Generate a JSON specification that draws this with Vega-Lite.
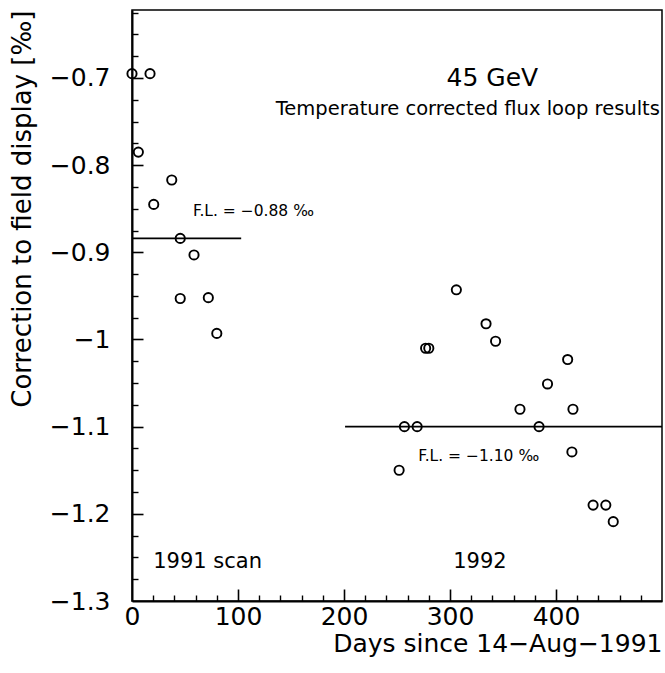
{
  "$schema": "https://vega.github.io/schema/vega-lite/v6.json",
  "width": 530,
  "height": 591,
  "autosize": {"type": "none"},
  "padding": {"left": 132, "top": 10, "right": 3, "bottom": 72},
  "background": "white",
  "config": {
    "view": {"stroke": "black", "strokeWidth": 1.5},
    "font": "DejaVu Sans",
    "axis": {"grid": false, "domainColor": "black", "tickColor": "black", "labelColor": "black", "titleColor": "black", "labelFont": "DejaVu Sans", "titleFont": "DejaVu Sans", "labelFlush": false, "labelOverlap": false}
  },
  "datasets": {
    "points": [
      {"day": 0, "value": -0.695, "period": "1991"},
      {"day": 17, "value": -0.695, "period": "1991"},
      {"day": 6, "value": -0.785, "period": "1991"},
      {"day": 37.5, "value": -0.817, "period": "1991"},
      {"day": 20.5, "value": -0.845, "period": "1991"},
      {"day": 45.5, "value": -0.884, "period": "1991"},
      {"day": 58.5, "value": -0.903, "period": "1991"},
      {"day": 45.5, "value": -0.953, "period": "1991"},
      {"day": 72, "value": -0.952, "period": "1991"},
      {"day": 80, "value": -0.993, "period": "1991"},
      {"day": 252, "value": -1.15, "period": "1992"},
      {"day": 257, "value": -1.1, "period": "1992"},
      {"day": 269, "value": -1.1, "period": "1992"},
      {"day": 277, "value": -1.01, "period": "1992"},
      {"day": 280, "value": -1.01, "period": "1992"},
      {"day": 306, "value": -0.943, "period": "1992"},
      {"day": 334, "value": -0.982, "period": "1992"},
      {"day": 343, "value": -1.002, "period": "1992"},
      {"day": 366, "value": -1.08, "period": "1992"},
      {"day": 384, "value": -1.1, "period": "1992"},
      {"day": 392, "value": -1.051, "period": "1992"},
      {"day": 411, "value": -1.023, "period": "1992"},
      {"day": 416, "value": -1.08, "period": "1992"},
      {"day": 415, "value": -1.129, "period": "1992"},
      {"day": 435, "value": -1.19, "period": "1992"},
      {"day": 447, "value": -1.19, "period": "1992"},
      {"day": 454, "value": -1.209, "period": "1992"}
    ],
    "lines": [
      {"start": 0, "end": 103, "level": -0.884, "period": "1991"},
      {"start": 201, "end": 500, "level": -1.1, "period": "1992"}
    ]
  },
  "resolve": {"axis": {"x": "independent", "y": "independent"}},
  "layer": [
    {
      "data": {"name": "points"},
      "mark": {"type": "point", "shape": "circle", "filled": false, "color": "black", "size": 85, "strokeWidth": 1.9, "opacity": 1},
      "encoding": {
        "x": {"field": "day", "type": "quantitative",
          "scale": {"domain": [0, 500], "nice": false, "zero": false},
          "axis": {"orient": "bottom", "values": [0, 100, 200, 300, 400], "ticks": false, "labelPadding": 3, "labelFontSize": 25, "title": "Days since 14−Aug−1991", "titleFontSize": 25, "titleFontWeight": "normal", "titleAnchor": "end", "titlePadding": 2, "domainWidth": 2}},
        "y": {"field": "value", "type": "quantitative",
          "scale": {"domain": [-1.3, -0.622], "nice": false, "zero": false},
          "axis": {"orient": "left", "values": [-1.3, -1.2, -1.1, -1, -0.9, -0.8, -0.7], "format": ".1~f", "ticks": false, "labelPadding": 22, "labelFontSize": 25, "title": "Correction to field display [‰]", "titleFontSize": 26, "titleFontWeight": "normal", "titleAnchor": "end", "titlePadding": 14, "domainWidth": 2}}
      }
    },
    {
      "data": {"name": "lines"},
      "mark": {"type": "rule", "color": "black", "strokeWidth": 1.6},
      "encoding": {
        "x": {"field": "start", "type": "quantitative",
          "axis": {"orient": "bottom", "values": [100, 200, 300, 400], "labels": false, "tickSize": -12, "tickWidth": 1.6, "domain": false, "title": null}},
        "x2": {"field": "end"},
        "y": {"field": "level", "type": "quantitative",
          "axis": {"orient": "left", "values": [-1.2, -1.1, -1, -0.9, -0.8, -0.7], "labels": false, "tickSize": -11, "tickWidth": 1.6, "domain": false, "title": null}}
      }
    },
    {
      "data": {"values": [{"x": 340, "y": -0.7, "label": "45 GeV"}]},
      "mark": {"type": "text", "fontSize": 25, "align": "center", "baseline": "middle", "color": "black"},
      "encoding": {
        "x": {"field": "x", "type": "quantitative",
          "axis": {"orient": "bottom", "values": [20, 40, 60, 80, 120, 140, 160, 180, 220, 240, 260, 280, 320, 340, 360, 380, 420, 440, 460, 480], "labels": false, "tickSize": -6, "tickWidth": 1.4, "domain": false, "title": null}},
        "y": {"field": "y", "type": "quantitative",
          "axis": {"orient": "left", "values": [-1.275, -1.25, -1.225, -1.175, -1.15, -1.125, -1.075, -1.05, -1.025, -0.975, -0.95, -0.925, -0.875, -0.85, -0.825, -0.775, -0.75, -0.725, -0.675, -0.65, -0.625], "labels": false, "tickSize": -6, "tickWidth": 1.4, "domain": false, "title": null}},
        "text": {"field": "label"}
      }
    },
    {
      "data": {"values": [{"x": 498, "y": -0.735, "label": "Temperature corrected flux loop results"}]},
      "mark": {"type": "text", "fontSize": 19.5, "align": "right", "baseline": "middle", "color": "black"},
      "encoding": {
        "x": {"field": "x", "type": "quantitative", "axis": null},
        "y": {"field": "y", "type": "quantitative", "axis": null},
        "text": {"field": "label"}
      }
    },
    {
      "data": {"values": [
        {"x": 57.5, "y": -0.853, "label": "F.L. = −0.88 ‰"},
        {"x": 270, "y": -1.134, "label": "F.L. = −1.10 ‰"}
      ]},
      "mark": {"type": "text", "fontSize": 15.5, "align": "left", "baseline": "middle", "color": "black"},
      "encoding": {
        "x": {"field": "x", "type": "quantitative", "axis": null},
        "y": {"field": "y", "type": "quantitative", "axis": null},
        "text": {"field": "label"}
      }
    },
    {
      "data": {"values": [
        {"x": 20, "y": -1.255, "label": "1991 scan"},
        {"x": 303, "y": -1.255, "label": "1992"}
      ]},
      "mark": {"type": "text", "fontSize": 21, "align": "left", "baseline": "middle", "color": "black"},
      "encoding": {
        "x": {"field": "x", "type": "quantitative", "axis": null},
        "y": {"field": "y", "type": "quantitative", "axis": null},
        "text": {"field": "label"}
      }
    }
  ]
}
